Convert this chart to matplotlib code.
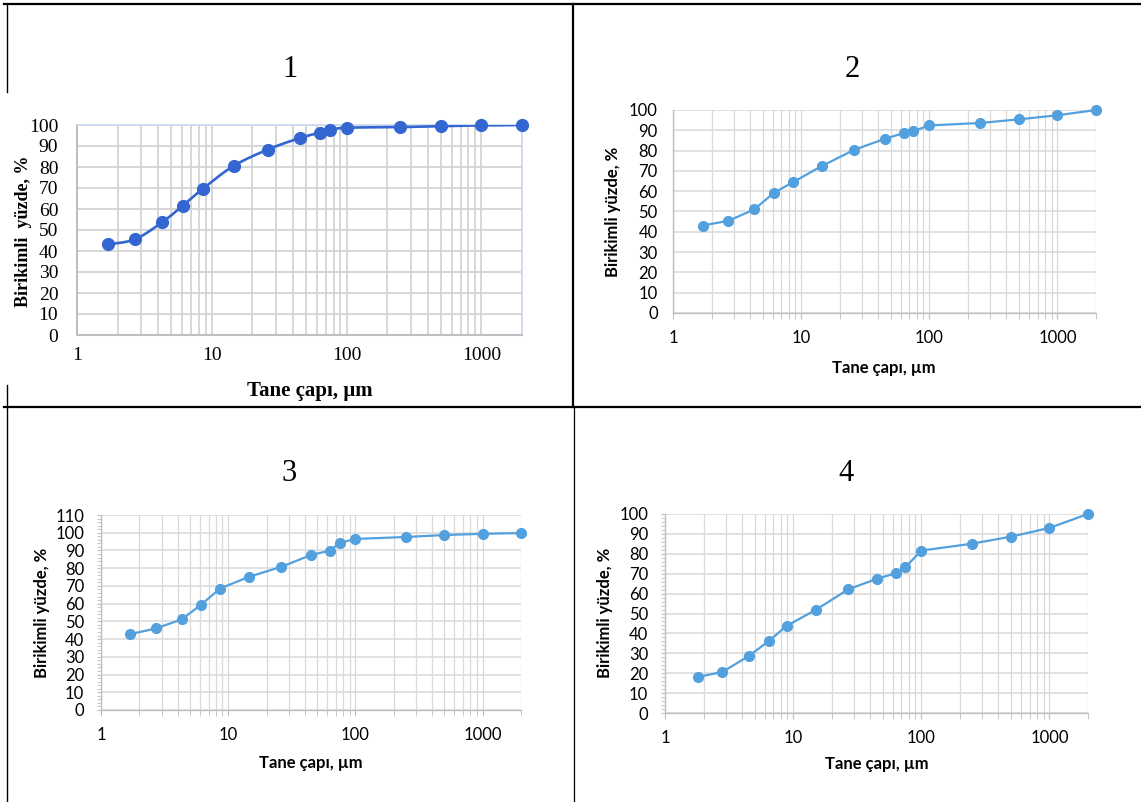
import numpy as np
import matplotlib
matplotlib.use('Agg')
from matplotlib import pyplot as plt
from matplotlib.lines import Line2D
from matplotlib.ticker import FixedLocator, FixedFormatter, LogLocator, NullFormatter, MultipleLocator

##################
# data
##################
size_um = [1.7, 2.7, 4.3, 6.1, 8.6, 14.5, 26, 45, 63, 75, 100, 250, 500, 1000, 2000]
size_um_4 = [1.8, 2.8, 4.5, 6.5, 8.9, 15, 27, 45, 63, 75, 100, 250, 500, 1000, 2000]

cum_1 = [43.2, 45.6, 53.8, 61.6, 69.7, 80.5, 88.3, 93.8, 96.3, 97.6, 98.7, 99.0, 99.5, 99.8, 100.0]
cum_2 = [43.1, 45.4, 51.0, 59.1, 64.4, 72.4, 80.4, 85.8, 88.6, 89.6, 92.4, 93.6, 95.4, 97.4, 100.0]
cum_3 = [42.8, 46.0, 51.1, 59.3, 68.5, 75.1, 80.7, 87.5, 89.9, 94.2, 96.5, 97.6, 98.7, 99.4, 99.8]
cum_4 = [18.1, 20.6, 28.6, 36.3, 43.8, 51.8, 62.2, 67.4, 70.2, 73.2, 81.6, 85.1, 88.6, 93.0, 100.0]

x_ticks = [1, 10, 100, 1000]
x_labels = ['1', '10', '100', '1000']
panel_names = ['1', '2', '3', '4']
x_title = 'Tane çapı, µm'
y_title = 'Birikimli yüzde, %'
y_title_1 = 'Birikimli  yüzde, %'

W, H = 1141, 802
SERIF = ['Liberation Serif', 'DejaVu Serif']
SANS = ['Lato', 'DejaVu Sans']

fig = plt.figure(figsize=(W / 100, H / 100), dpi=100)
fig.patch.set_facecolor('white')


def px_axes(x0, y0, x1, y1):
    return fig.add_axes([x0 / W, 1 - y1 / H, (x1 - x0) / W, (y1 - y0) / H])


def px_text(x, y, s, **kw):
    fig.text(x / W, 1 - y / H, s, **kw)


def px_line(x0, y0, x1, y1, lw):
    fig.add_artist(Line2D([x0 / W, x1 / W], [1 - y0 / H, 1 - y1 / H],
                          transform=fig.transFigure, color='black', lw=lw))


def smooth_curve(x, y, n=25):
    # excel-like smoothed line (bezier through the points, log x)
    P = np.column_stack([np.log10(x) * 134, np.array(y) * 2.1])
    out = []
    t = np.linspace(0, 1, n)[:, None]
    for i in range(len(P) - 1):
        p0 = P[i - 1] if i > 0 else P[i]
        p3 = P[i + 2] if i + 2 < len(P) else P[i + 1]
        c1 = P[i] + (P[i + 1] - p0) / 6
        c2 = P[i + 1] - (p3 - P[i]) / 6
        seg = (1 - t) ** 3 * P[i] + 3 * (1 - t) ** 2 * t * c1 + 3 * (1 - t) * t ** 2 * c2 + t ** 3 * P[i + 1]
        out.append(seg)
    out = np.vstack(out)
    return 10 ** (out[:, 0] / 134), out[:, 1] / 2.1


def setup_log_x(ax):
    ax.set_xscale('log')
    ax.set_xlim(1, 2000)
    ax.xaxis.set_major_locator(FixedLocator(x_ticks))
    ax.xaxis.set_major_formatter(FixedFormatter(x_labels))
    ax.xaxis.set_minor_locator(LogLocator(base=10, subs=np.arange(2, 10)))
    ax.xaxis.set_minor_formatter(NullFormatter())


##################
# panel 1 (serif, smoothed)
##################
ax = px_axes(77, 125, 522, 335)
setup_log_x(ax)
ax.set_ylim(0, 100)
ax.yaxis.set_major_locator(MultipleLocator(10))
ax.grid(True, which='both', axis='x', color='#d3d3d3', lw=1.3)
ax.grid(True, which='major', axis='y', color='#d3d3d3', lw=1.3)
ax.set_axisbelow(True)
c1 = '#3366d0'
sx, sy = smooth_curve(size_um, cum_1)
ax.plot(sx, sy, color=c1, lw=1.9, zorder=3)
ax.plot(size_um, cum_1, 'o', color=c1, ms=8.5, zorder=4, clip_on=False)
for s in ['left', 'bottom']:
    ax.spines[s].set_color('#bfbfbf')
    ax.spines[s].set_linewidth(1.5)
for s in ['top', 'right']:
    ax.spines[s].set_color('#c9d9f0')
    ax.spines[s].set_linewidth(1.2)
ax.tick_params(axis='both', which='both', length=0)
ax.tick_params(axis='y', pad=13.5)
ax.tick_params(axis='x', pad=9)
for lab in ax.get_xticklabels() + ax.get_yticklabels():
    lab.set_family(SERIF)
    lab.set_fontsize(14)
px_text(24, 231, y_title_1, rotation=90, ha='center', va='center',
        family=SERIF, fontsize=13, fontweight='bold')
px_text(310, 396, x_title, ha='center', va='baseline',
        family=SERIF, fontsize=15, fontweight='bold')


##################
# panels 2-4 (excel default style)
##################
def excel_panel(box, x, y, ymax, yminor, lbl_y, lbl_x):
    ax = px_axes(*box)
    setup_log_x(ax)
    ax.set_ylim(0, ymax)
    ax.yaxis.set_major_locator(MultipleLocator(10))
    ax.grid(True, which='both', axis='x', color='#d9d9d9', lw=0.9)
    ax.grid(True, which='major', axis='y', color='#d9d9d9', lw=1.1)
    ax.set_axisbelow(True)
    c = '#52a0de'
    ax.plot(x, y, '-o', color=c, lw=1.6, ms=7, zorder=3, clip_on=False)
    for s in ['top', 'right']:
        ax.spines[s].set_visible(False)
    for s in ['left', 'bottom']:
        ax.spines[s].set_color('#bfbfbf')
        ax.spines[s].set_linewidth(1.0)
    ax.tick_params(axis='x', which='both', length=4, color='#bfbfbf', direction='out', pad=8)
    if yminor:
        ax.yaxis.set_minor_locator(MultipleLocator(2))
        ax.tick_params(axis='y', which='both', length=3, color='#bfbfbf', direction='out', pad=9)
    else:
        ax.tick_params(axis='y', which='both', length=0, pad=11)
    for lab in ax.get_xticklabels() + ax.get_yticklabels():
        lab.set_family(SANS)
        lab.set_fontsize(12)
    px_text(lbl_y[0], lbl_y[1], y_title, rotation=90, ha='center', va='center',
            family=SANS, fontsize=12, fontweight='bold')
    px_text(lbl_x[0], lbl_x[1], x_title, ha='center', va='baseline',
            family=SANS, fontsize=12, fontweight='bold')
    return ax


excel_panel((673, 110, 1096, 313), size_um, cum_2, 100, False, (613, 212), (884, 373))
excel_panel((101, 515, 521, 710), size_um, cum_3, 110, True, (42, 613), (311, 768))
excel_panel((665, 514, 1088, 713), size_um_4, cum_4, 100, True, (605, 613), (877, 769))

##################
# table frame and panel numbers
##################
for name, (tx, ty) in zip(panel_names, [(290, 77), (852, 77), (289, 481), (846, 481)]):
    px_text(tx, ty, name, ha='center', va='baseline', family=SERIF, fontsize=22)

px_line(4, 4, W, 4, 1.6)
px_line(4, 407, W, 407, 1.6)
px_line(573, 4, 573, 407, 1.6)
px_line(574, 407, 574, 802, 0.9)
px_line(7, 4, 7, 92, 1.0)
px_line(7, 385, 7, 802, 1.0)

fig.savefig('out.png', dpi=100, facecolor='white')
